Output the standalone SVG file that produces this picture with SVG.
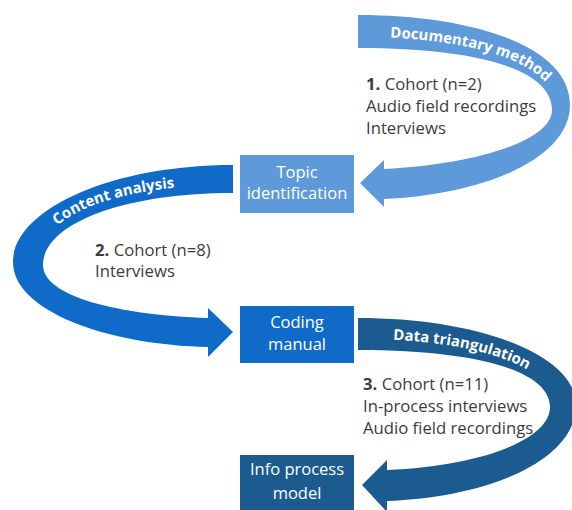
<svg xmlns="http://www.w3.org/2000/svg" width="572" height="510" viewBox="0 0 572 510">
<defs>
<style>
.body{font-family:"Open Sans","Noto Sans","Liberation Sans",sans-serif;font-size:16.7px;fill:#3c3c3c}
.box{font-family:"Open Sans","Noto Sans","Liberation Sans",sans-serif;font-size:16.5px;fill:#ffffff;text-anchor:middle}
.arc{font-family:"Open Sans","Noto Sans","Liberation Sans",sans-serif;font-size:15px;font-weight:bold;fill:#ffffff}
.c1{fill:#5e9ad9}
.c2{fill:#0f6bc7}
.c3{fill:#1b5b8f}
</style>
<path id="p1" d="M 360,37 C 470,37 558,62 558,112"/>
<path id="p2" d="M 39,262 C 39,215 115,185 233,185"/>
<path id="p3" d="M 360,339 C 470,339 557,364 557,412"/>
</defs>
<rect width="572" height="510" fill="#ffffff"/>
<g id="connectors">
<path class="c1" d="M 358,15 C 470,15 570,45 570,105 C 570,160 480,195 384,199 L 384,207 L 360,183 L 384,160 L 384,169 C 470,165 552,142 552,110 C 552,70 480,48 358,48 Z"/>
<path class="c2" d="M 233,165 C 110,165 13,210 13,262 C 13,312 110,345 208,347 L 208,357 L 233,332 L 208,308 L 208,318 C 120,315 43,297 43,265 C 43,225 120,193 233,193 Z"/>
<path class="c3" d="M 358,318 C 480,318 576,355 576,405 C 576,460 490,497 387,501 L 387,512 L 362,485 L 387,460 L 387,470 C 480,466 550,440 550,407 C 550,372 480,350 358,350 Z"/>
<text class="arc"><textPath href="#p1" startOffset="30">Documentary method</textPath></text>
<text class="arc"><textPath href="#p2" startOffset="42">Content analysis</textPath></text>
<text class="arc"><textPath href="#p3" startOffset="33">Data triangulation</textPath></text>
</g>
<g id="topic">
<rect class="c1" x="240" y="155" width="114" height="58"/>
<text class="box" x="297" y="178">Topic</text>
<text class="box" x="297" y="199">identification</text>
</g>
<g id="coding">
<rect class="c2" x="240" y="306" width="114" height="57"/>
<text class="box" x="297" y="328">Coding</text>
<text class="box" x="297" y="350">manual</text>
</g>
<g id="info">
<rect class="c3" x="240" y="455" width="114" height="57"/>
<text class="box" x="297" y="475">Info process</text>
<text class="box" x="297" y="499">model</text>
</g>
<g id="cohort1">
<text class="body" x="366" y="90"><tspan font-weight="bold">1.</tspan> Cohort (n=2)</text>
<text class="body" x="366" y="112">Audio field recordings</text>
<text class="body" x="366" y="134">Interviews</text>
</g>
<g id="cohort2">
<text class="body" x="95" y="256"><tspan font-weight="bold">2.</tspan> Cohort (n=8)</text>
<text class="body" x="95" y="277">Interviews</text>
</g>
<g id="cohort3">
<text class="body" x="363" y="390"><tspan font-weight="bold">3.</tspan> Cohort (n=11)</text>
<text class="body" x="363" y="412">In-process interviews</text>
<text class="body" x="363" y="434">Audio field recordings</text>
</g>
</svg>
